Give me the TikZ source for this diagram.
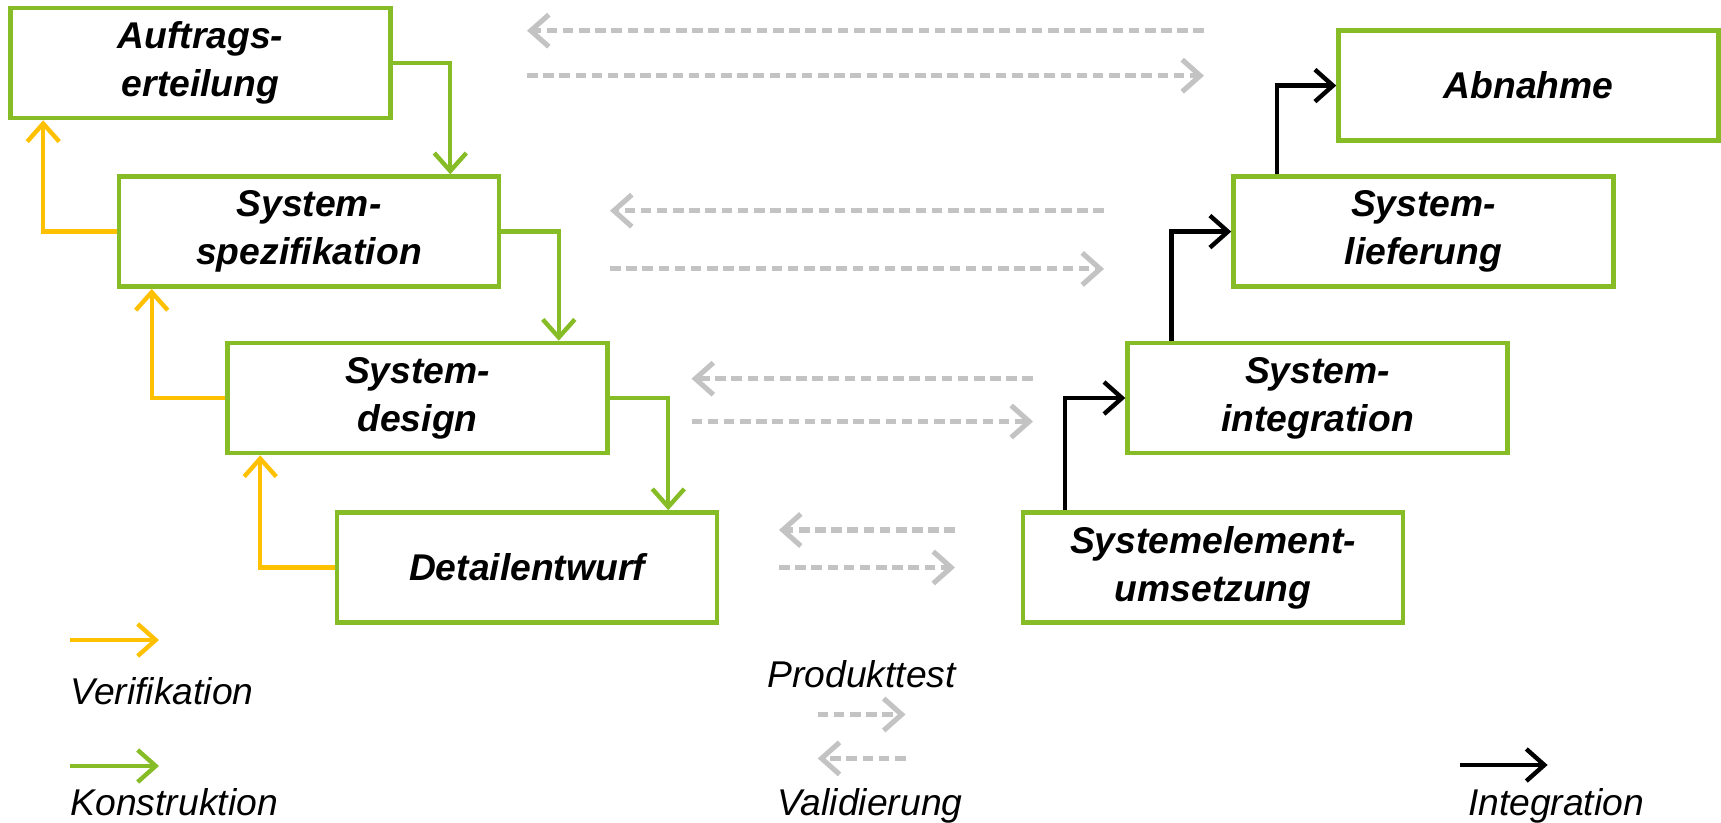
\documentclass[tikz,border=0pt]{standalone}
\usepackage{fontspec}
\setmainfont{Liberation Sans}
\usetikzlibrary{arrows.meta}
\definecolor{vgreen}{HTML}{86BC25}
\definecolor{vyellow}{HTML}{FFC000}
\definecolor{vgray}{HTML}{C3C3C3}

\begin{document}
\begin{tikzpicture}[
  phase/.style={draw=vgreen, line width=1.3pt, minimum width=3.8cm,
                minimum height=1.1cm, inner sep=0pt, align=center,
                font=\fontsize{10.6}{13.6}\selectfont\bfseries\itshape},
  barb/.style={-{Straight Barb[length=1.8mm, width=3.2mm]}},
  konstr/.style={barb, draw=vgreen, line width=1.25pt},
  verif/.style={barb, draw=vyellow, line width=1.25pt},
  integ/.style={barb, draw=black, line width=1.25pt},
  valid/.style={barb, draw=vgray, line width=1.45pt, dash pattern=on 3pt off 1.6pt},
  lgd/.style={font=\fontsize{10.6}{12.5}\selectfont\itshape, inner sep=0pt},
]
  \useasboundingbox (0,0) rectangle (17.21,-8.23);

  % left branch
  \node[phase] (auftrag) at (2.005, -0.63)  {Auftrags-\\erteilung};
  \node[phase] (spez)    at (3.09, -2.316)  {System-\\spezifikation};
  \node[phase] (design)  at (4.175, -3.98)  {System-\\design};
  \node[phase] (detail)  at (5.27, -5.675)  {Detailentwurf};
  % right branch
  \node[phase] (umsetz)  at (12.13, -5.675) {Systemelement-\\umsetzung};
  \node[phase] (integr)  at (13.176, -3.98) {System-\\integration};
  \node[phase] (liefer)  at (14.235, -2.316) {System-\\lieferung};
  \node[phase] (abnahme) at (15.285, -0.856) {Abnahme};

  % Konstruktion
  \draw[konstr] (auftrag.east) -| ([xshift=-0.51cm]spez.north east);
  \draw[konstr] (spez.east) -| ([xshift=-0.51cm]design.north east);
  \draw[konstr] (design.east) -| ([xshift=-0.51cm]detail.north east);

  % Verifikation
  \draw[verif] (spez.west) -| ([xshift=0.35cm]auftrag.south west);
  \draw[verif] (design.west) -| ([xshift=0.35cm]spez.south west);
  \draw[verif] (detail.west) -| ([xshift=0.35cm]design.south west);

  % Integration
  \draw[integ] ([xshift=0.44cm]umsetz.north west) |- (integr.west);
  \draw[integ] ([xshift=0.46cm]integr.north west) |- (liefer.west);
  \draw[integ] ([xshift=0.46cm]liefer.north west) |- (abnahme.west);

  % Validierung / Produkttest
  \foreach \r/\xa/\xb/\ya/\yb in {1/5.27/12.04/-0.307/-0.757,
                                   2/6.10/11.04/-2.107/-2.689,
                                   3/6.915/10.33/-3.787/-4.215,
                                   4/7.79/9.55/-5.30/-5.675} {
    \coordinate (va\r) at (\xa,\ya);
    \coordinate (vb\r) at (\xb,\ya);
    \coordinate (pa\r) at (\xa,\yb);
    \coordinate (pb\r) at (\xb,\yb);
    \draw[valid] (vb\r) -- (va\r);
    \draw[valid] (pa\r) -- (pb\r);
  }

  % legend
  \coordinate (verA) at (0.70, -6.40);
  \coordinate (verB) at (1.59, -6.40);
  \draw[verif] (verA) -- (verB);
  \node[lgd, anchor=base west] (tverif) at (0.70, -7.046) {Verifikation};

  \coordinate (konA) at (0.70, -7.66);
  \coordinate (konB) at (1.59, -7.66);
  \draw[konstr] (konA) -- (konB);
  \node[lgd, anchor=base west] (tkonstr) at (0.70, -8.155) {Konstruktion};

  \node[lgd, anchor=base] (tprod) at (8.616, -6.87) {Produkttest};
  \coordinate (proA) at (8.177, -7.145);
  \coordinate (proB) at (9.055, -7.145);
  \draw[valid] (proA) -- (proB);
  \coordinate (valA) at (8.177, -7.584);
  \coordinate (valB) at (9.055, -7.584);
  \draw[valid] (valB) -- (valA);
  \node[lgd, anchor=base] (tvalid) at (8.70, -8.155) {Validierung};

  \coordinate (intA) at (14.60, -7.65);
  \coordinate (intB) at (15.476, -7.65);
  \draw[integ] (intA) -- (intB);
  \node[lgd, anchor=base] (tinteg) at (15.56, -8.155) {Integration};
\end{tikzpicture}
\end{document}
